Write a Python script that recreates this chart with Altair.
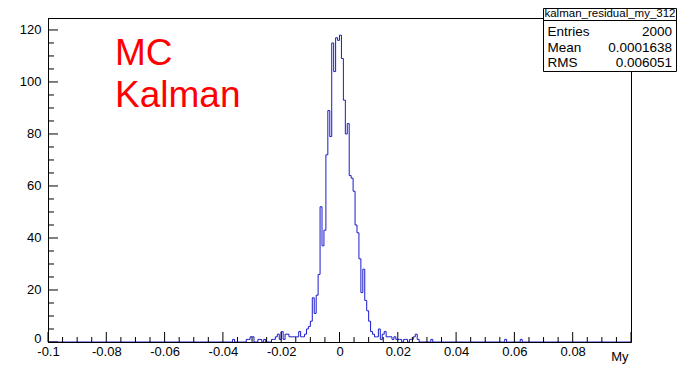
import altair as alt
import numpy as np
import pandas as pd

# ---- data ----
n_bins = 300
x_min, x_max = -0.1, 0.1
core_first_bin = 115
core_counts = [
    1, 1, 2, 3, 1, 4, 1, 3, 3, 2,          # 115-124
    2, 2, 2, 2, 4, 2, 2, 3, 5, 6,          # 125-134
    8, 17, 11, 18, 26, 52, 37, 43, 72, 89,  # 135-144
    79, 115, 104, 117, 116, 118, 109, 93, 80, 84,  # 145-154
    64, 63, 58, 45, 42, 32, 19, 28, 16, 12,  # 155-164
    8, 4, 3, 2, 2, 5, 1, 3, 4, 2,          # 165-174
    2, 2, 1, 2, 1, 1, 1, 0, 1, 1,          # 175-184
    0, 1, 1, 2, 3, 1,                      # 185-190
]
sparse_bins = [95, 102, 103, 104, 105, 108, 109, 111, 197, 235, 243]
sparse_counts = [1, 1, 1, 2, 2, 1, 1, 1, 1, 1, 1]

x_label_values = [-0.1, -0.08, -0.06, -0.04, -0.02, 0, 0.02, 0.04, 0.06, 0.08]
y_label_values = [0, 20, 40, 60, 80, 100, 120]
y_max = 124.6

stats_title = "kalman_residual_my_312"
stats_names = ["Entries", "Mean", "RMS"]
stats_values = ["2000", "0.0001638", "0.006051"]
text_lines = ["MC", "Kalman"]

# ---- build tables ----
counts = np.zeros(n_bins)
for i, c in enumerate(core_counts):
    counts[core_first_bin + i] = c
for b, c in zip(sparse_bins, sparse_counts):
    counts[b] = c
bw = (x_max - x_min) / n_bins
edges = x_min + np.arange(n_bins + 1) * bw
hist = pd.DataFrame({"x": edges, "count": list(counts) + [counts[-1]]})

W, H = 583, 324
PAD = {"left": 40, "top": 10, "right": 46, "bottom": 22}
FONT = "Liberation Sans"
BLUE = "#1a1acc"
LABEL_FS = 13

x_major = [round(v, 3) for v in np.arange(-0.1, 0.1001, 0.02)]
x_minor = [round(v, 4) for v in np.arange(-0.1, 0.1001, 0.005)
           if min(abs(v - m) for m in x_major) > 1e-6]
y_major = list(range(0, 121, 20))
y_minor = [v for v in range(0, 125, 5) if v % 20 != 0]

xscale = alt.Scale(domain=[x_min, x_max], nice=False, zero=False)
yscale = alt.Scale(domain=[0, y_max], nice=False)

xaxis = alt.Axis(
    values=x_label_values, ticks=False, domain=False, grid=False,
    labelExpr="toString(round(datum.value*100)/100)",
    labelFlush=False, labelPadding=3,
    labelFont=FONT, labelFontSize=LABEL_FS, labelColor="black",
    title="My", titleAnchor="end", titleAlign="right",
    titleX=W - 3, titleY=18, titleBaseline="alphabetic",
    titleFont=FONT, titleFontSize=LABEL_FS, titleColor="black",
    titleFontWeight="normal")
yaxis = alt.Axis(
    values=y_label_values, ticks=False, domain=False, grid=False,
    labelFont=FONT, labelFontSize=LABEL_FS, labelColor="black",
    labelBaseline={"condition": {"test": "datum.value === 0", "value": "alphabetic"},
                   "value": "middle"},
    labelPadding=7, title=None)

line = alt.Chart(hist).mark_line(
    interpolate="step-after", color=BLUE, strokeWidth=1
).encode(
    x=alt.X("x:Q", scale=xscale, axis=xaxis),
    y=alt.Y("count:Q", scale=yscale, axis=yaxis),
)

xt_major = alt.Chart(pd.DataFrame({"x": x_major})).mark_rule(color="black").encode(
    x=alt.X("x:Q", scale=xscale, axis=xaxis), y=alt.value(H), y2=alt.value(H - 10))
xt_minor = alt.Chart(pd.DataFrame({"x": x_minor})).mark_rule(color="black").encode(
    x=alt.X("x:Q", scale=xscale, axis=xaxis), y=alt.value(H), y2=alt.value(H - 5))
yt_major = alt.Chart(pd.DataFrame({"count": y_major})).mark_rule(color="black").encode(
    y=alt.Y("count:Q", scale=yscale, axis=yaxis), x=alt.value(0), x2=alt.value(10))
yt_minor = alt.Chart(pd.DataFrame({"count": y_minor})).mark_rule(color="black").encode(
    y=alt.Y("count:Q", scale=yscale, axis=yaxis), x=alt.value(0), x2=alt.value(6))

# crisp frame (half-pixel positioned)
fr = pd.DataFrame({"a": [0]})
frame_left = alt.Chart(fr).mark_rule(color="black").encode(
    x=alt.value(0.5), y=alt.value(0), y2=alt.value(H + 0.5))
frame_bottom = alt.Chart(fr).mark_rule(color="black").encode(
    x=alt.value(0), x2=alt.value(W + 0.5), y=alt.value(H + 0.5))
frame_top = alt.Chart(fr).mark_rule(color="black").encode(
    x=alt.value(0), x2=alt.value(W + 0.5), y=alt.value(0.5))
frame_right = alt.Chart(fr).mark_rule(color="black").encode(
    x=alt.value(W + 0.5), y=alt.value(0), y2=alt.value(H + 0.5))

mc = alt.Chart(pd.DataFrame({"t": [text_lines[0]]})).mark_text(
    align="left", baseline="alphabetic", fontSize=37, font=FONT, color="#ff0000"
).encode(text="t:N", x=alt.value(67), y=alt.value(47))
kal = alt.Chart(pd.DataFrame({"t": [text_lines[1]]})).mark_text(
    align="left", baseline="alphabetic", fontSize=37, font=FONT, color="#ff0000"
).encode(text="t:N", x=alt.value(67), y=alt.value(89))

box_l, box_r, box_t, box_b = 495.5, W + PAD["right"] - 0.5, -9.5, 53.5
box = alt.Chart(fr).mark_rect(
    fill="white", stroke="black", strokeWidth=1
).encode(x=alt.value(box_l), x2=alt.value(box_r), y=alt.value(box_t), y2=alt.value(box_b))
divider = alt.Chart(fr).mark_rule(color="black").encode(
    x=alt.value(box_l), x2=alt.value(box_r), y=alt.value(2.5))
title_txt = alt.Chart(pd.DataFrame({"t": [stats_title]})).mark_text(
    align="center", baseline="middle", fontSize=11.5, font=FONT, color="black"
).encode(text="t:N", x=alt.value((box_l + box_r) / 2), y=alt.value(-4))

row_y = [13.7, 29.7, 44.7]
rows = pd.DataFrame({"name": stats_names, "val": stats_values, "ry": row_y})
names_txt = alt.Chart(rows).mark_text(
    align="left", baseline="middle", fontSize=13.5, font=FONT, color="black"
).encode(text="name:N", x=alt.value(box_l + 4), y=alt.Y("ry:Q", scale=None))
vals_txt = alt.Chart(rows).mark_text(
    align="right", baseline="middle", fontSize=13.5, font=FONT, color="black"
).encode(text="val:N", x=alt.value(box_r - 4.5), y=alt.Y("ry:Q", scale=None))

chart = alt.layer(
    line, xt_major, xt_minor, yt_major, yt_minor,
    frame_left, frame_bottom, frame_top, frame_right, mc, kal,
    box, divider, title_txt, names_txt, vals_txt
).properties(
    width=W, height=H,
    padding=PAD,
    autosize=alt.AutoSizeParams(type="none"),
).configure_view(
    strokeWidth=0
).configure(background="white")

chart.save("out.html", embed_options={"renderer": "svg", "actions": False})
